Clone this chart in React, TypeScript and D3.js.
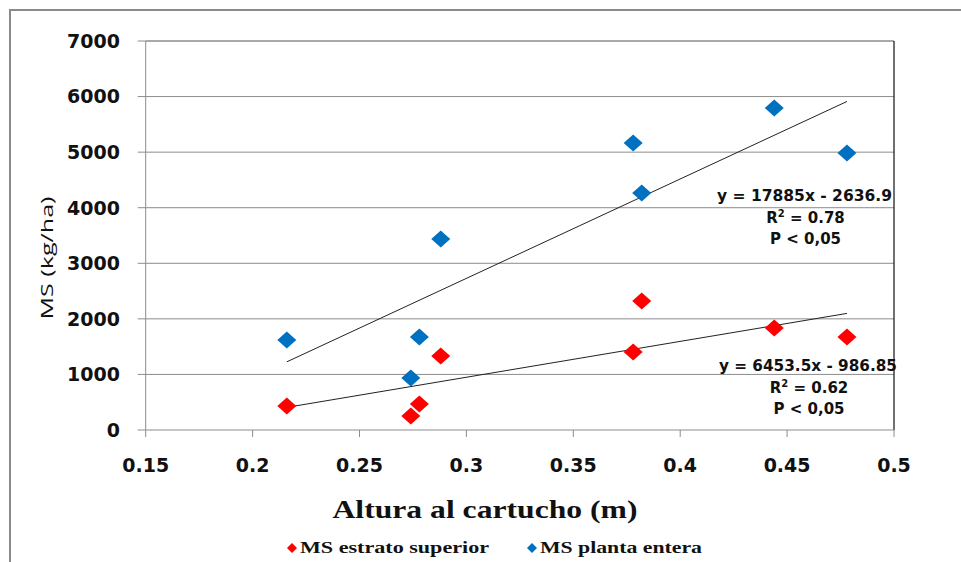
import React from "react";
import * as d3 from "d3";

const alturaX = [0.216, 0.274, 0.278, 0.288, 0.378, 0.382, 0.444, 0.478];
const msPlantaEntera = [1620, 936, 1674, 3437, 5165, 4265, 5794, 4985];
const msEstratoSuperior = [432, 252, 468, 1332, 1404, 2321, 1835, 1674];
const xTicks = [0.15, 0.2, 0.25, 0.3, 0.35, 0.4, 0.45, 0.5];
const yTicks = [0, 1000, 2000, 3000, 4000, 5000, 6000, 7000];
const fitPlanta = { slope: 17885, intercept: -2636.9, label: "y = 17885x - 2636.9", r2: "0.78" };
const fitEstrato = { slope: 6453.5, intercept: -986.85, label: "y = 6453.5x - 986.85", r2: "0.62" };

const BLUE = "#0070C0";
const RED = "#FF0000";
const SANS = "'DejaVu Sans', Verdana, sans-serif";
const SERIF = "'Liberation Serif', 'Times New Roman', serif";

const diamond = (cx: number, cy: number, hw: number, hh: number) =>
  `M${cx},${cy - hh}L${cx + hw},${cy}L${cx},${cy + hh}L${cx - hw},${cy}Z`;

export default function App() {
  const W = 961, H = 562;
  const left = 145.7, right = 894, top = 41, bottom = 430;
  const x = d3.scaleLinear().domain([0.15, 0.5]).range([left, right]);
  const y = d3.scaleLinear().domain([0, 7000]).range([bottom, top]);
  const xmin = d3.min(alturaX) as number;
  const xmax = d3.max(alturaX) as number;

  const line = d3.line<number>().x((d) => x(d)).y((d) => d);

  const fitLine = (f: { slope: number; intercept: number }) =>
    d3.line<number>()
      .x((d) => x(d))
      .y((d) => y(f.slope * d + f.intercept))([xmin, xmax]) as string;

  return (
    <svg width={W} height={H} style={{ position: "absolute", left: 0, top: 0, background: "#fff" }}>
      <rect x={0} y={0} width={W} height={H} fill="#fff" />
      {/* outer frame */}
      <rect x={10} y={10} width={W + 20} height={H + 20} fill="none" stroke="#8a8a8a" strokeWidth={2} />

      {/* gridlines */}
      {yTicks.filter((t) => t > 0 && t < 7000).map((t) => (
        <line key={"g" + t} x1={left} x2={right} y1={y(t)} y2={y(t)} stroke="#8c8c8c" strokeWidth={1} />
      ))}
      {/* plot border top/right */}
      <line x1={left} x2={right} y1={top} y2={top} stroke="#555" strokeWidth={1.2} />
      <line x1={right} x2={right} y1={top} y2={bottom} stroke="#111" strokeWidth={1.2} />
      {/* axes */}
      <line x1={left} x2={left} y1={top} y2={bottom} stroke="#8c8c8c" strokeWidth={1} />
      <line x1={left} x2={right} y1={bottom} y2={bottom} stroke="#8c8c8c" strokeWidth={1} />

      {yTicks.map((t) => (
        <g key={"y" + t}>
          <line x1={left - 8} x2={left} y1={y(t)} y2={y(t)} stroke="#8c8c8c" />
          <text x={120} y={y(t)} dy="0.36em" textAnchor="end" fontFamily={SANS} fontWeight="bold" fontSize={19} fill="#111">
            {t}
          </text>
        </g>
      ))}
      {xTicks.map((t) => (
        <g key={"x" + t}>
          <line x1={x(t)} x2={x(t)} y1={bottom} y2={bottom + 7} stroke="#8c8c8c" />
          <text x={x(t)} y={472} textAnchor="middle" fontFamily={SANS} fontWeight="bold" fontSize={19} fill="#111">
            {String(t)}
          </text>
        </g>
      ))}

      {/* axis titles */}
      <text
        transform={`translate(53,258) rotate(-90)`}
        textAnchor="middle"
        fontFamily="'Open Sans', 'Liberation Sans', sans-serif"
        fontSize={17}
        fill="#111"
        textLength={123}
        lengthAdjust="spacingAndGlyphs"
      >
        MS (kg/ha)
      </text>
      <text x={485} y={518} textAnchor="middle" fontFamily={SERIF} fontWeight="bold" fontSize={26} fill="#111"
        textLength={305} lengthAdjust="spacingAndGlyphs">
        Altura al cartucho (m)
      </text>

      {/* trend lines */}
      <path d={fitLine(fitPlanta)} stroke="#222" strokeWidth={1} fill="none" />
      <path d={fitLine(fitEstrato)} stroke="#222" strokeWidth={1} fill="none" />

      {/* points */}
      {alturaX.map((a, i) => (
        <path key={"b" + i} d={diamond(x(a), y(msPlantaEntera[i]), 9.5, 8.5)} fill={BLUE} />
      ))}
      {alturaX.map((a, i) => (
        <path key={"r" + i} d={diamond(x(a), y(msEstratoSuperior[i]), 9.5, 8.5)} fill={RED} />
      ))}

      {/* equations */}
      {[
        { f: fitPlanta, cx: 804.5, by: 201 },
        { f: fitEstrato, cx: 808, by: 371 },
      ].map(({ f, cx, by }, k) => (
        <g key={"eq" + k} fontFamily={SANS} fontWeight="bold" fontSize={15} fill="#111" textAnchor="middle">
          <text x={cx} y={by} textLength={k === 0 ? 175 : 178} lengthAdjust="spacingAndGlyphs">{f.label}</text>
          <text x={cx + 1} y={by + 22}>
            R<tspan fontSize={10} dy={-6}>2</tspan>
            <tspan dy={6}> = {f.r2}</tspan>
          </text>
          <text x={cx + 1} y={by + 43}>P &lt; 0,05</text>
        </g>
      ))}

      {/* legend */}
      <path d={diamond(292, 548, 5, 5)} fill={RED} />
      <text x={300} y={553} fontFamily={SERIF} fontWeight="bold" fontSize={16} fill="#111" textLength={189} lengthAdjust="spacingAndGlyphs">
        MS estrato superior
      </text>
      <path d={diamond(532, 548, 5, 5)} fill={BLUE} />
      <text x={540} y={553} fontFamily={SERIF} fontWeight="bold" fontSize={16} fill="#111" textLength={162} lengthAdjust="spacingAndGlyphs">
        MS planta entera
      </text>
    </svg>
  );
}
